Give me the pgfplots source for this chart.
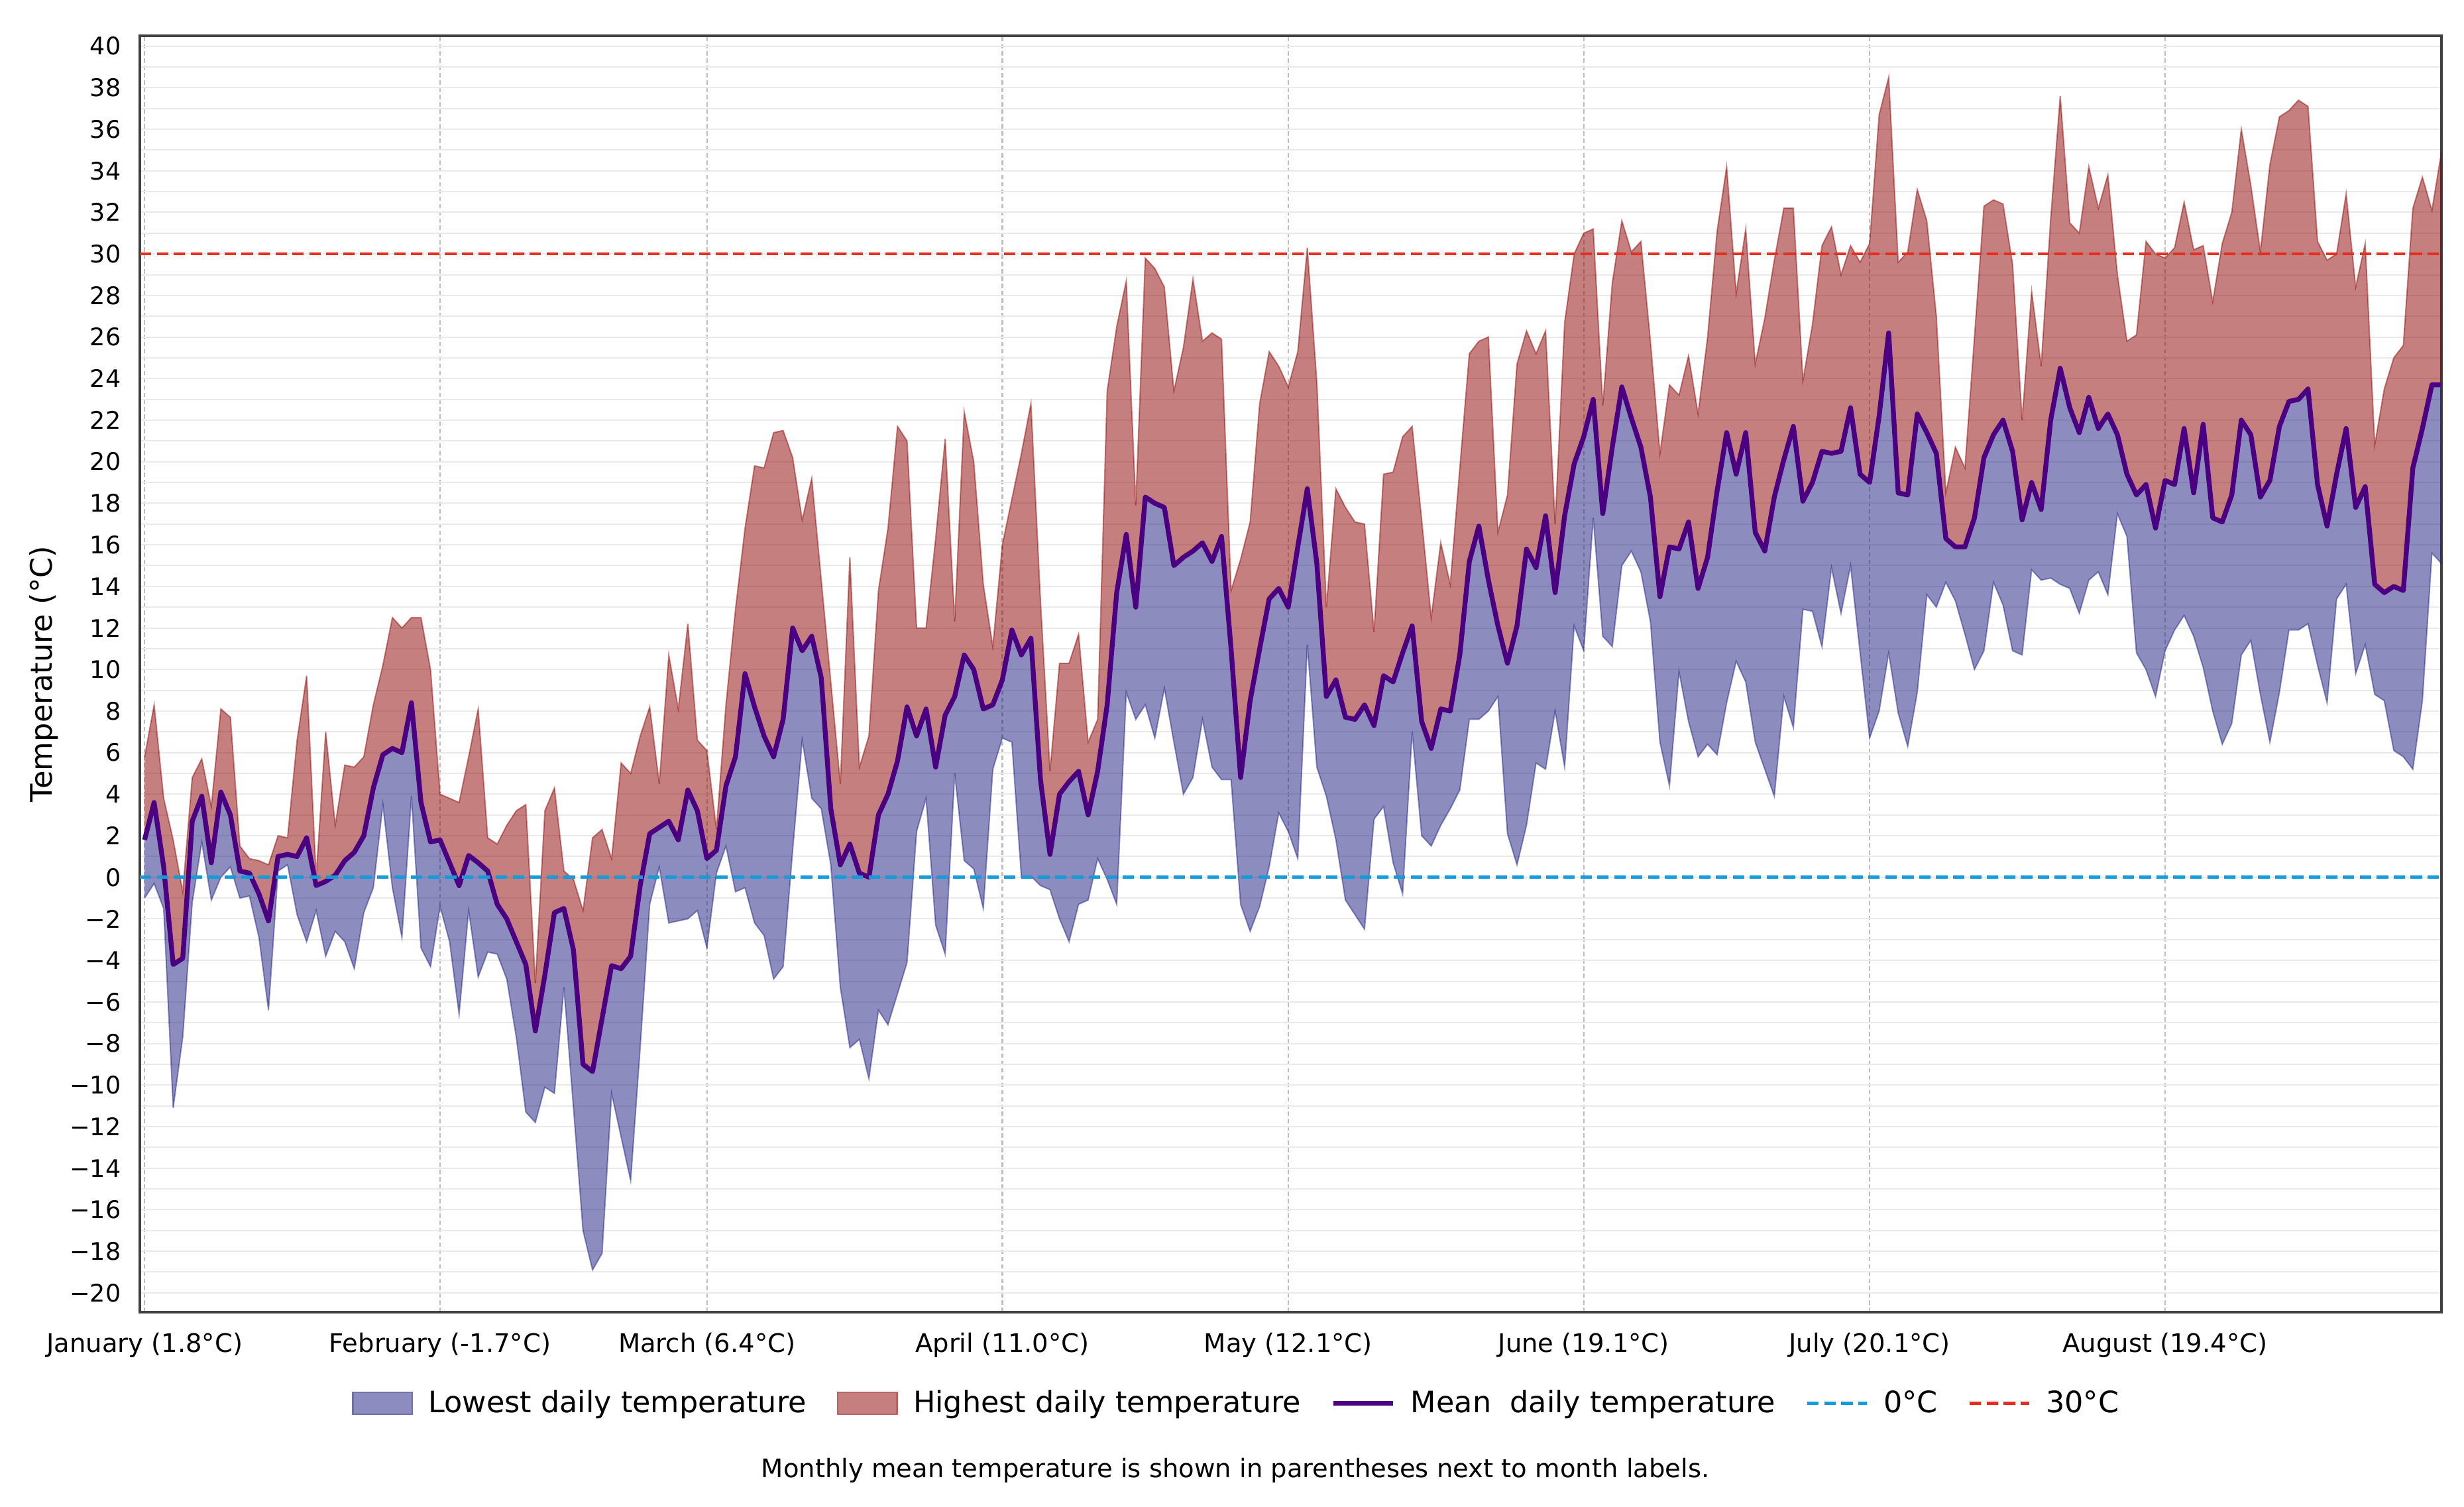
\documentclass[border=0pt]{standalone}
\usepackage{pgfplots}
\pgfplotsset{compat=1.18}
\usepackage{pgfplotstable}
\usepgfplotslibrary{fillbetween}
\usepackage{fontspec}
\setmainfont{DejaVu Sans}

\definecolor{lowfill}{RGB}{25,25,128}
\definecolor{highfill}{RGB}{139,0,0}
\definecolor{meanline}{RGB}{75,0,130}
\definecolor{zeroline}{RGB}{20,155,220}
\definecolor{thirtyline}{RGB}{228,45,35}
\definecolor{spine}{RGB}{64,64,64}
\definecolor{hgrid}{RGB}{234,234,234}
\definecolor{vgrid}{RGB}{190,190,190}

\pgfplotstableread{
day low mean high
0 -1.0 1.8 5.8
1 -0.3 3.6 8.3
2 -1.5 0.5 3.8
3 -11.1 -4.2 1.8
4 -7.7 -3.9 -0.7
5 -1.2 2.7 4.8
6 1.7 3.9 5.7
7 -1.1 0.7 3.4
8 0.0 4.1 8.1
9 0.5 3.0 7.7
10 -1.0 0.3 1.5
11 -0.9 0.2 0.9
12 -2.9 -0.8 0.8
13 -6.4 -2.1 0.6
14 0.3 1.0 2.0
15 0.6 1.1 1.9
16 -1.8 1.0 6.6
17 -3.1 1.9 9.7
18 -1.6 -0.4 0.0
19 -3.8 -0.2 7.0
20 -2.6 0.1 2.5
21 -3.1 0.8 5.4
22 -4.4 1.2 5.3
23 -1.7 2.0 5.8
24 -0.5 4.3 8.3
25 3.5 5.9 10.2
26 -0.5 6.2 12.5
27 -2.9 6.0 12.0
28 3.9 8.4 12.5
29 -3.4 3.6 12.5
30 -4.3 1.7 10.0
31 -1.4 1.8 4.0
32 -3.1 0.7 3.8
33 -6.6 -0.4 3.6
34 -1.6 1.05 5.8
35 -4.8 0.7 8.1
36 -3.6 0.3 1.9
37 -3.7 -1.3 1.6
38 -4.9 -2.0 2.5
39 -7.7 -3.1 3.2
40 -11.3 -4.2 3.5
41 -11.8 -7.4 -5.1
42 -10.1 -4.7 3.2
43 -10.4 -1.7 4.3
44 -5.3 -1.5 0.3
45 -11.1 -3.5 -0.1
46 -17.0 -9.0 -1.6
47 -18.9 -9.35 1.9
48 -18.1 -6.8 2.3
49 -10.4 -4.25 0.9
50 -12.5 -4.4 5.5
51 -14.6 -3.8 5.0
52 -8.2 -0.4 6.8
53 -1.3 2.1 8.2
54 0.5 2.4 4.5
55 -2.2 2.7 10.7
56 -2.1 1.8 8.1
57 -2.0 4.2 12.2
58 -1.6 3.2 6.6
59 -3.4 0.9 6.1
60 0.2 1.3 2.3
61 1.5 4.4 8.3
62 -0.7 5.8 12.9
63 -0.5 9.8 16.8
64 -2.2 8.2 19.8
65 -2.8 6.8 19.7
66 -4.9 5.8 21.4
67 -4.3 7.6 21.5
68 1.3 12.0 20.2
69 6.6 10.9 17.2
70 3.8 11.6 19.2
71 3.3 9.6 14.3
72 0.6 3.3 9.4
73 -5.3 0.6 4.5
74 -8.2 1.6 15.4
75 -7.8 0.2 5.3
76 -9.7 0.0 6.8
77 -6.4 3.0 13.8
78 -7.1 4.0 16.8
79 -5.6 5.6 21.7
80 -4.1 8.2 21.0
81 2.2 6.8 12.0
82 3.8 8.1 12.0
83 -2.3 5.3 16.3
84 -3.7 7.8 21.1
85 5.0 8.7 12.3
86 0.8 10.7 22.4
87 0.4 10.0 20.0
88 -1.5 8.1 14.1
89 5.2 8.3 11.1
90 6.7 9.5 16.0
91 6.5 11.9 18.2
92 0.0 10.7 20.4
93 0.05 11.5 22.8
94 -0.4 4.7 13.3
95 -0.6 1.1 5.1
96 -2.0 4.0 10.3
97 -3.1 4.6 10.3
98 -1.3 5.1 11.7
99 -1.1 3.0 6.5
100 0.9 5.1 7.6
101 -0.1 8.3 23.4
102 -1.3 13.7 26.5
103 8.9 16.5 28.7
104 7.6 13.0 17.9
105 8.3 18.3 29.8
106 6.7 18.0 29.3
107 9.1 17.8 28.4
108 6.5 15.0 23.4
109 4.0 15.4 25.5
110 4.8 15.7 28.8
111 7.6 16.1 25.8
112 5.3 15.2 26.2
113 4.7 16.4 25.9
114 4.7 11.0 13.8
115 -1.3 4.8 15.3
116 -2.6 8.5 17.1
117 -1.4 11.0 22.8
118 0.5 13.4 25.3
119 3.1 13.9 24.6
120 2.2 13.0 23.6
121 0.9 15.9 25.3
122 11.2 18.7 30.3
123 5.3 15.1 23.8
124 3.9 8.7 13.0
125 1.8 9.5 18.7
126 -1.1 7.7 17.8
127 -1.8 7.6 17.1
128 -2.5 8.3 17.0
129 2.8 7.3 11.8
130 3.4 9.7 19.4
131 0.7 9.4 19.5
132 -0.8 10.8 21.2
133 7.0 12.1 21.7
134 2.0 7.5 17.2
135 1.5 6.2 12.5
136 2.5 8.1 16.1
137 3.3 8.0 14.1
138 4.2 10.7 19.7
139 7.6 15.2 25.2
140 7.6 16.9 25.8
141 8.0 14.3 26.0
142 8.7 12.1 16.6
143 2.1 10.3 18.4
144 0.6 12.1 24.7
145 2.5 15.8 26.3
146 5.5 14.9 25.2
147 5.2 17.4 26.3
148 8.0 13.7 17.0
149 5.3 17.4 26.7
150 12.1 19.9 30.0
151 10.9 21.2 31.0
152 17.3 23.0 31.2
153 11.6 17.5 22.7
154 11.1 20.7 28.6
155 15.0 23.6 31.6
156 15.7 22.1 30.1
157 14.7 20.7 30.6
158 12.3 18.3 25.8
159 6.5 13.5 20.4
160 4.4 15.9 23.7
161 9.9 15.8 23.2
162 7.5 17.1 25.1
163 5.8 13.9 22.3
164 6.4 15.4 26.0
165 5.9 18.6 31.1
166 8.4 21.4 34.2
167 10.4 19.4 28.1
168 9.4 21.4 31.2
169 6.5 16.6 24.7
170 5.2 15.7 26.9
171 3.9 18.3 29.7
172 8.7 20.1 32.2
173 7.2 21.7 32.2
174 12.9 18.1 23.9
175 12.8 19.0 26.6
176 11.1 20.5 30.4
177 14.9 20.4 31.3
178 12.7 20.5 29.0
179 15.0 22.6 30.4
180 10.8 19.4 29.6
181 6.7 19.0 30.5
182 8.0 22.2 36.7
183 10.8 26.2 38.5
184 7.9 18.5 29.6
185 6.3 18.4 30.1
186 8.9 22.3 33.1
187 13.6 21.4 31.6
188 13.0 20.4 27.0
189 14.2 16.3 18.5
190 13.3 15.9 20.7
191 11.7 15.9 19.7
192 10.0 17.3 26.0
193 10.9 20.2 32.3
194 14.2 21.3 32.6
195 13.1 22.0 32.4
196 10.9 20.5 29.5
197 10.7 17.2 22.0
198 14.8 19.0 28.2
199 14.3 17.7 24.6
200 14.4 22.0 31.7
201 14.1 24.5 37.6
202 13.9 22.6 31.5
203 12.7 21.4 31.0
204 14.3 23.1 34.2
205 14.7 21.6 32.2
206 13.6 22.3 33.8
207 17.5 21.3 29.0
208 16.4 19.4 25.8
209 10.8 18.4 26.1
210 10.0 18.9 30.6
211 8.7 16.8 30.0
212 10.9 19.1 29.8
213 11.9 18.9 30.3
214 12.6 21.6 32.5
215 11.6 18.5 30.2
216 10.1 21.8 30.4
217 8.0 17.3 27.7
218 6.4 17.1 30.5
219 7.4 18.4 32.0
220 10.7 22.0 36.0
221 11.4 21.3 33.3
222 8.8 18.3 30.1
223 6.5 19.1 34.3
224 8.9 21.7 36.6
225 11.9 22.9 36.9
226 11.9 23.0 37.4
227 12.2 23.5 37.1
228 10.2 18.9 30.6
229 8.4 16.9 29.7
230 13.4 19.4 30.0
231 14.1 21.6 32.9
232 9.8 17.8 28.4
233 11.2 18.8 30.5
234 8.8 14.1 20.8
235 8.5 13.7 23.5
236 6.1 14.0 25.0
237 5.8 13.8 25.6
238 5.2 19.7 32.2
239 8.5 21.6 33.7
240 15.6 23.7 32.1
241 15.1 23.7 34.9
}\temps

\begin{document}
\begin{tikzpicture}
\begin{axis}[
  at={(0pt,0pt)}, anchor=south west,
  scale only axis, width=1045.8pt, height=579.98pt,
  xmin=-0.5, xmax=241, ymin=-20.93, ymax=40.5,
  axis line style={draw=spine, line width=1pt},
  xtick={0,31,59,90,120,151,181,212},
  xticklabels={January (1.8°C), February (-1.7°C), March (6.4°C), April (11.0°C), May (12.1°C), June (19.1°C), July (20.1°C), August (19.4°C)},
  ytick={-20,-18,...,40},
  yticklabels={−20,−18,−16,−14,−12,−10,−8,−6,−4,−2,0,2,4,6,8,10,12,14,16,18,20,22,24,26,28,30,32,34,36,38,40},
  minor y tick num=1,
  major tick length=0pt, minor tick length=0pt,
  xmajorgrids, ymajorgrids, yminorgrids,
  major x grid style={dash pattern=on 2pt off 1.3pt, line width=0.7pt, draw=vgrid},
  major y grid style={line width=0.6pt, draw=hgrid},
  minor y grid style={line width=0.6pt, draw=hgrid},
  yticklabel style={font=\fontsize{11}{13}\selectfont, inner sep=0pt, xshift=-8.4pt},
  xticklabel style={font=\fontsize{11.6}{13}\selectfont, inner sep=0pt, anchor=north, yshift=-9.1pt},
  ylabel={Temperature (°C)},
  ylabel style={font=\fontsize{13.5}{15}\selectfont, at={(axis description cs:-0.04164,0.5)}, anchor=center},
  legend style={draw=none, fill=none, at={(axis description cs:0.4760,-0.07140)}, anchor=center,
    font=\fontsize{13.4}{15}\selectfont, nodes={inner sep=0pt},
    /tikz/every odd column/.append style={column sep=7pt},
    /tikz/every even column/.append style={column sep=13.8pt}},
  legend columns=-1,
  after end axis/.code={\node[font=\fontsize{11.6}{13}\selectfont, anchor=center] at (axis description cs:0.4760,-0.1241) {Monthly mean temperature is shown in parentheses next to month labels.};},
]
\addplot[name path=low, draw=lowfill, draw opacity=0.45, line width=0.6pt, forget plot] table[x=day,y=low]{\temps};
\addplot[name path=meanp, draw=none, forget plot] table[x=day,y=mean]{\temps};
\addplot[name path=high, draw=highfill, draw opacity=0.45, line width=0.6pt, forget plot] table[x=day,y=high]{\temps};

\addplot[fill=lowfill, fill opacity=0.5, draw=none,
  legend image code/.code={\draw[draw={rgb,255:red,112;green,112;blue,172}, line width=0.8pt, fill={rgb,255:red,140;green,140;blue,192}, fill opacity=1, draw opacity=1] (0pt,-5pt) rectangle (27pt,5pt);}]
  fill between[of=low and meanp];
\addlegendentry{Lowest daily temperature}

\addplot[fill=highfill, fill opacity=0.5, draw=none,
  legend image code/.code={\draw[draw={rgb,255:red,182;green,100;blue,100}, line width=0.8pt, fill={rgb,255:red,197;green,127;blue,127}, fill opacity=1, draw opacity=1] (0pt,-5pt) rectangle (27pt,5pt);}]
  fill between[of=meanp and high];
\addlegendentry{Highest daily temperature}

\addplot[meanline, line width=2.2pt, line join=round,
  legend image code/.code={\draw[meanline, line width=2.2pt] (0pt,0pt) -- (27pt,0pt);}]
  table[x=day,y=mean]{\temps};
\addlegendentry{Mean~ daily temperature}

\addplot[zeroline, line width=1.4pt, dash pattern=on 5.2pt off 2.5pt,
  legend image code/.code={\draw[zeroline, line width=1.4pt, dash pattern=on 5.2pt off 2.5pt] (0pt,0pt) -- (27pt,0pt);}]
  coordinates {(-0.5,0) (241,0)};
\addlegendentry{0°C}

\addplot[thirtyline, line width=1.4pt, dash pattern=on 5.2pt off 2.5pt,
  legend image code/.code={\draw[thirtyline, line width=1.4pt, dash pattern=on 5.2pt off 2.5pt] (0pt,0pt) -- (27pt,0pt);}]
  coordinates {(-0.5,30) (241,30)};
\addlegendentry{30°C}
\end{axis}
\pgfresetboundingbox
\path[use as bounding box] (-63.54pt,-88.53pt) rectangle (1056.06pt,596.24pt);
\end{tikzpicture}
\end{document}
